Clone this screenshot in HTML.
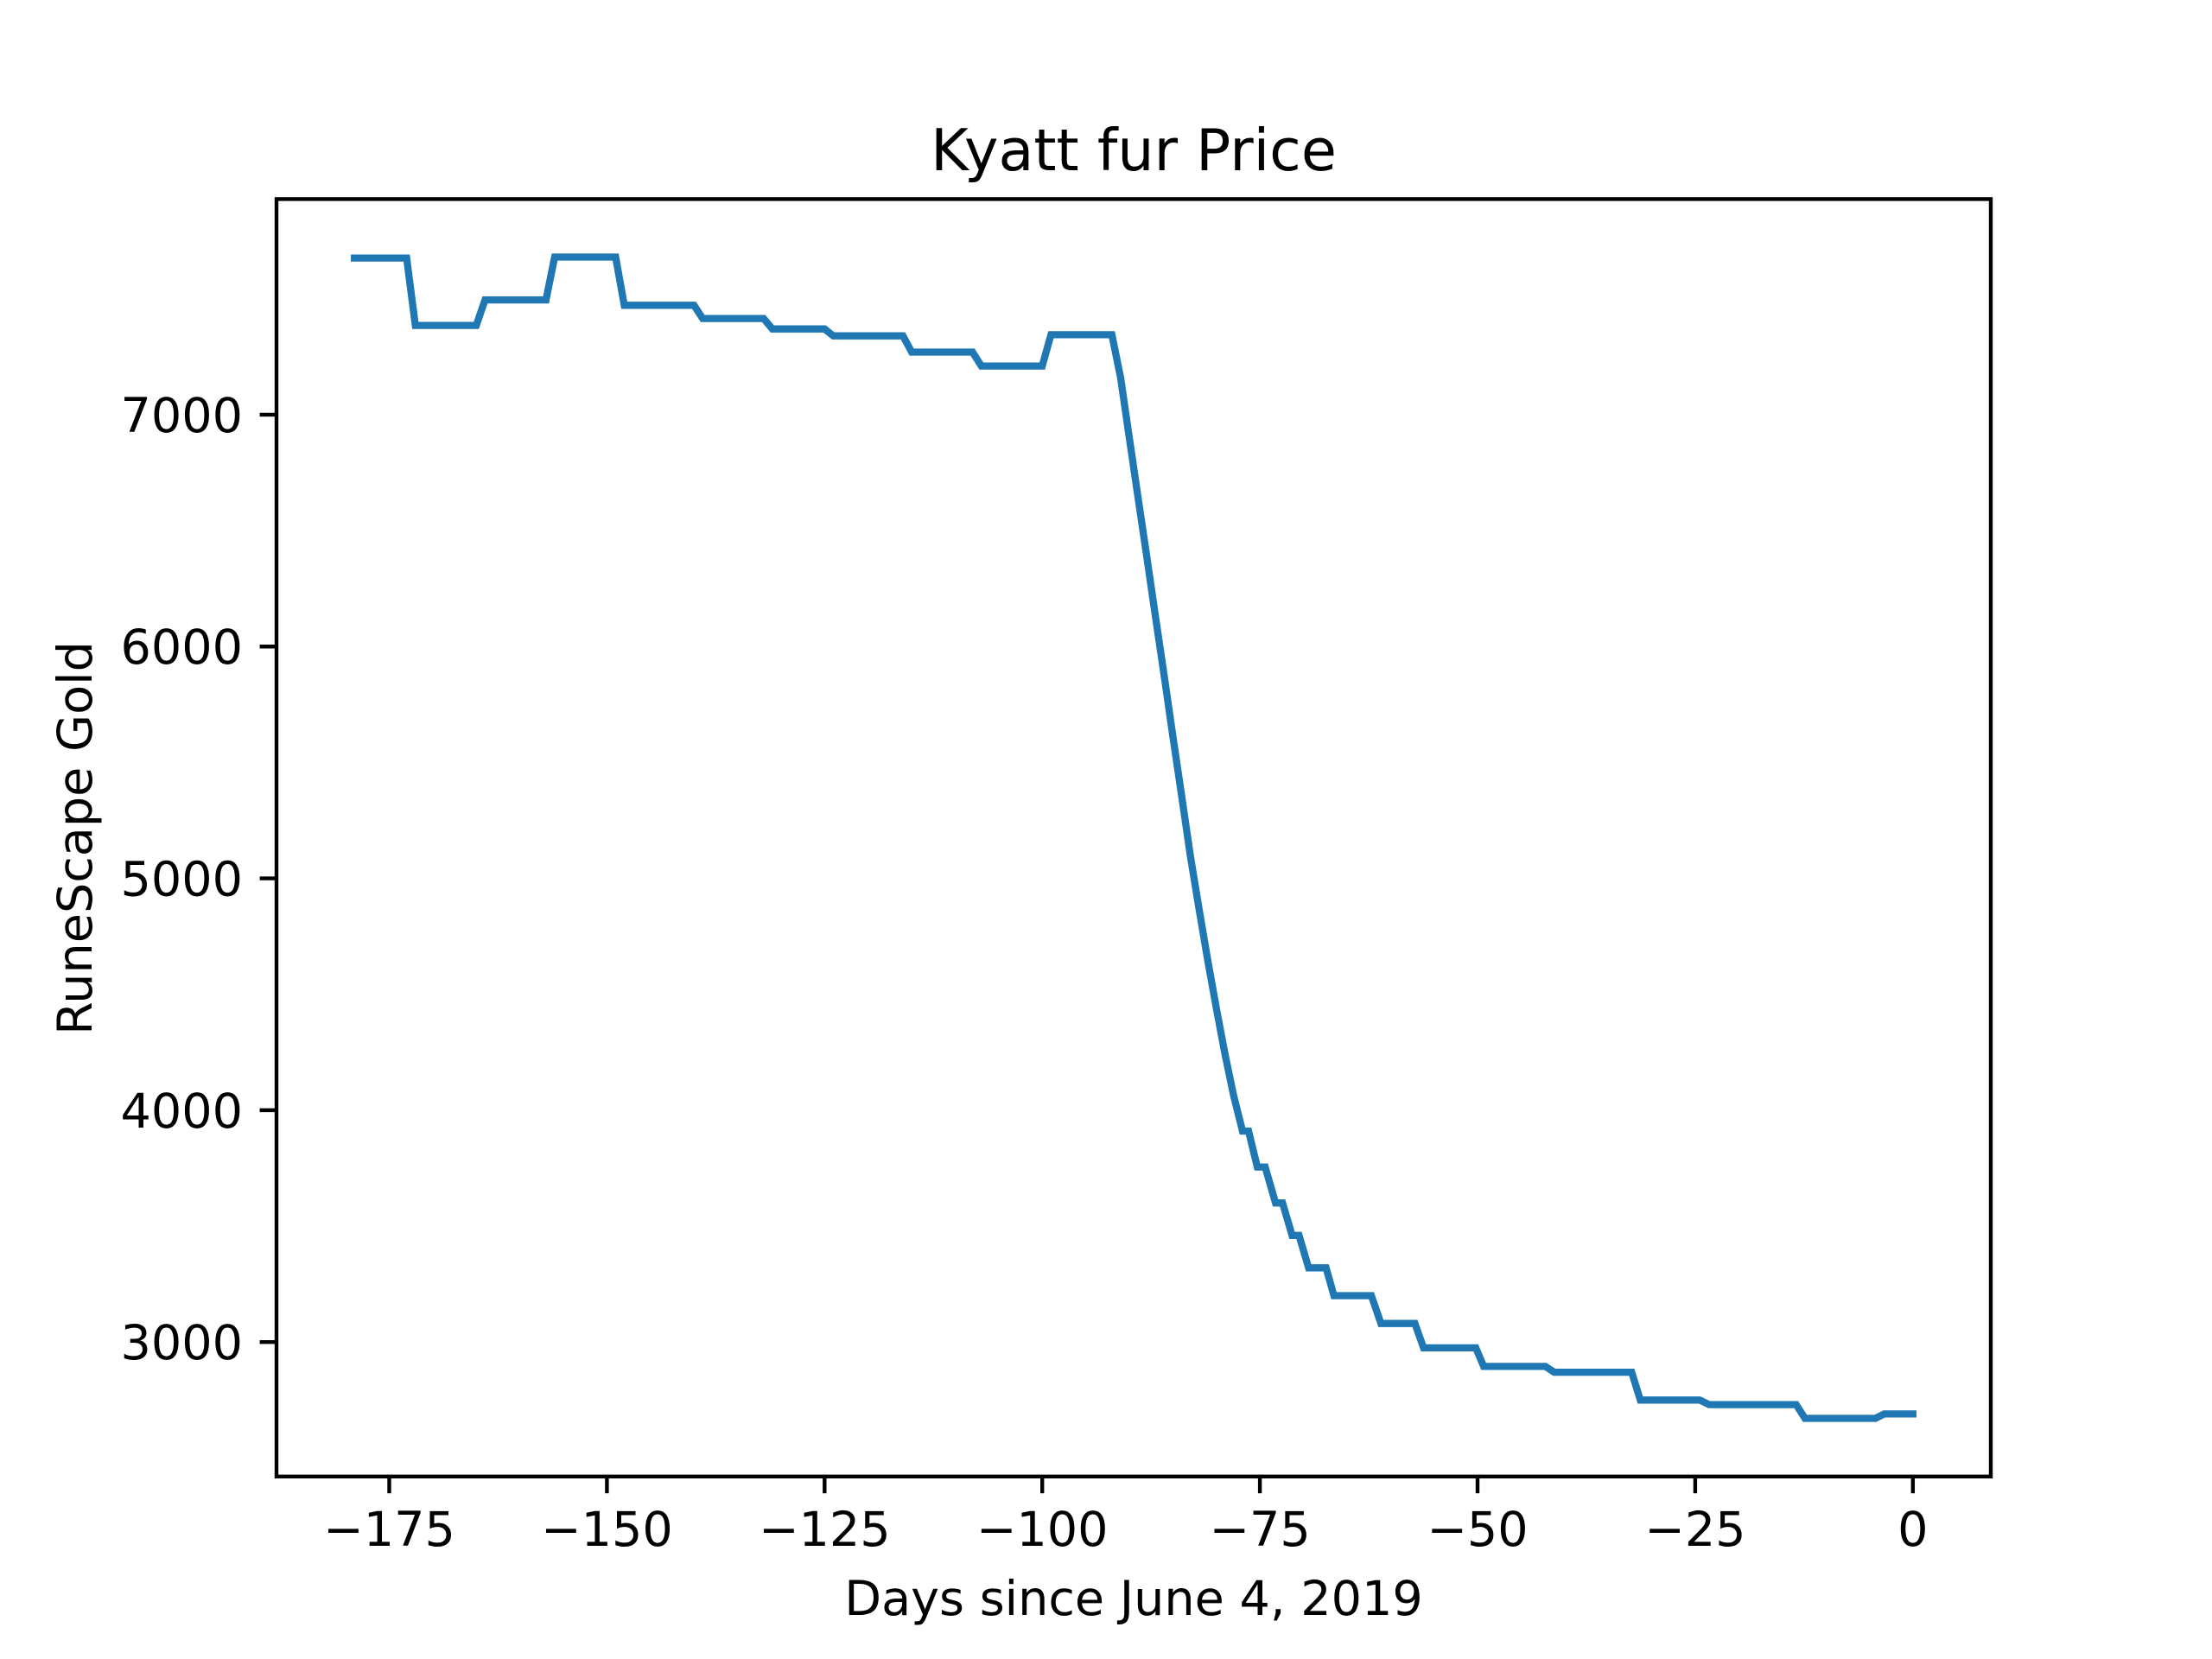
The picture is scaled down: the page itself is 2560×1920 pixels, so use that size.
<!DOCTYPE html>
<html><head><meta charset="utf-8"><style>html,body{margin:0;padding:0;background:#fff}svg{display:block}text{font-family:"DejaVu Sans","Liberation Sans",sans-serif;fill:#000}</style></head>
<body>
<svg id="chart" width="2560" height="1920" viewBox="0 0 2560 1920" xmlns="http://www.w3.org/2000/svg">
<rect width="2560" height="1920" fill="#fff"/>
<text x="1312" y="197" font-size="66.7" text-anchor="middle">Kyatt fur Price</text>
<text x="1312" y="1869" font-size="55.6" text-anchor="middle">Days since June 4, 2019</text>
<text x="0" y="0" font-size="55.6" text-anchor="middle" transform="translate(106,970) rotate(-90)">RuneScape Gold</text>
<g id="xticks"></g>
<g id="yticks"></g>
<path id="line" fill="none" stroke="#1f77b4" stroke-width="8.3" stroke-linejoin="miter" stroke-linecap="square"/>
<rect x="320" y="230.4" width="1984" height="1478.4" fill="none" stroke="#000" stroke-width="4.4"/>
</svg>
<script>
const days = [-179,-173,-172,-165,-164,-157,-156,-149,-148,-140,-139,-132,-131,-125,-124,-116,-115,-108,-107,-100,-99,-92,-91,-90,-89,-88,-87,-86,-85,-84,-83,-82,-81,-80,-79,-78,-77,-76.3,-75.3,-74.4,-73.2,-72.4,-71.3,-70.5,-69.4,-67.4,-66.5,-62.2,-61.1,-57.2,-56.2,-50.2,-49.3,-42.2,-41.2,-32.3,-31.3,-24.5,-23.4,-13.4,-12.4,-4.3,-3.3,0];
const prices = [7676,7676,7385,7385,7495,7495,7680,7680,7472,7472,7415,7415,7370,7370,7340,7340,7270,7270,7210,7210,7345,7345,7160,6900,6645,6390,6130,5875,5615,5360,5100,4870,4650,4440,4240,4060,3910,3910,3755,3755,3600,3600,3460,3460,3320,3320,3200,3200,3080,3080,2975,2975,2895,2895,2870,2870,2750,2750,2730,2730,2671,2671,2690,2690];
const xTicks = [-175,-150,-125,-100,-75,-50,-25,0];
const yTicks = [3000,4000,5000,6000,7000];
const X0=320,X1=2304,Y0=230.4,Y1=1708.8;
const xmin=-187.95,xmax=8.95,ymin=2420,ymax=7930;
function sx(v){return X0+(v-xmin)/(xmax-xmin)*(X1-X0);}
function sy(v){return Y1-(v-ymin)/(ymax-ymin)*(Y1-Y0);}
const NS='http://www.w3.org/2000/svg';
function fmt(v){return v<0?'\u2212'+(-v):String(v);}
const xg=document.getElementById('xticks'), yg=document.getElementById('yticks');
xTicks.forEach(t=>{
  const l=document.createElementNS(NS,'line');
  
  
  l.setAttribute('x1',sx(t));l.setAttribute('x2',sx(t));l.setAttribute('y1',Y1);l.setAttribute('y2',Y1+19.4);
  l.setAttribute('stroke','#000');l.setAttribute('stroke-width','4.4');xg.appendChild(l);
  const tx=document.createElementNS(NS,'text');
  
  
  tx.setAttribute('x',sx(t));tx.setAttribute('y',Y1+80);tx.setAttribute('font-size','55.6');tx.setAttribute('text-anchor','middle');
  tx.textContent=fmt(t);xg.appendChild(tx);
});
yTicks.forEach(t=>{
  const l=document.createElementNS(NS,'line');
  
  
  l.setAttribute('x1',X0-19.4);l.setAttribute('x2',X0);l.setAttribute('y1',sy(t));l.setAttribute('y2',sy(t));
  l.setAttribute('stroke','#000');l.setAttribute('stroke-width','4.4');yg.appendChild(l);
  const tx=document.createElementNS(NS,'text');
  
  
  tx.setAttribute('x',X0-39);tx.setAttribute('y',sy(t)+20);tx.setAttribute('font-size','55.6');tx.setAttribute('text-anchor','end');
  tx.textContent=fmt(t);yg.appendChild(tx);
});
document.getElementById('line').setAttribute('d',days.map((d,i)=>(i?'L':'M')+sx(d).toFixed(1)+','+sy(prices[i]).toFixed(1)).join(''));
</script>
</body></html>
